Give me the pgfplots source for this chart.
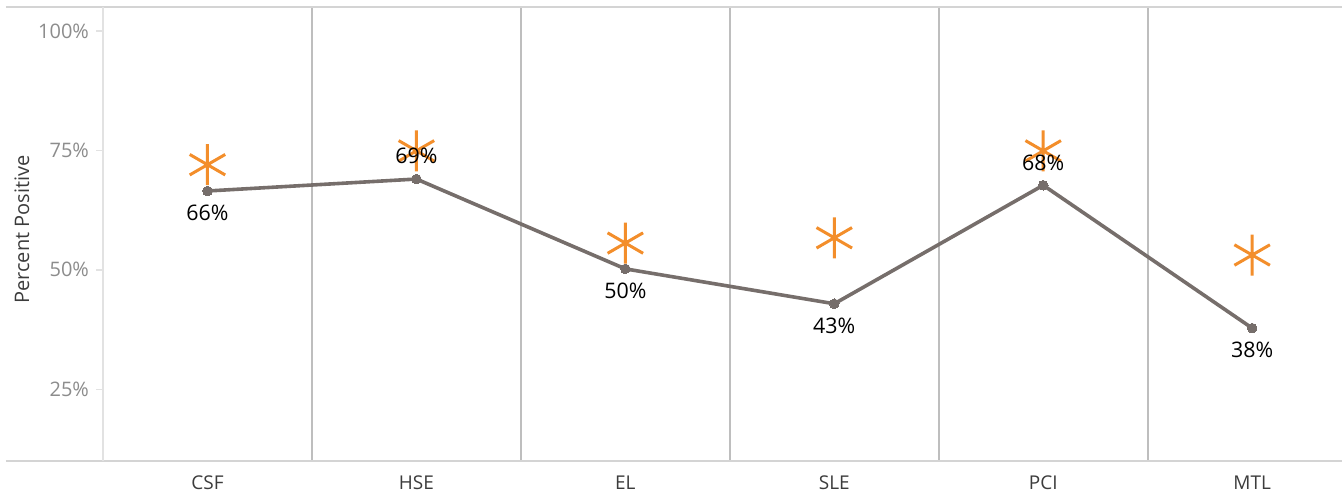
\documentclass[border=0pt]{standalone}
\usepackage{fontspec}
\setmainfont{Open Sans}
\usepackage{pgfplots}
\pgfplotsset{compat=1.18}
\definecolor{lineclr}{RGB}{118,110,107}
\definecolor{starclr}{RGB}{243,142,43}
\definecolor{sepclr}{RGB}{190,190,190}
\definecolor{frameclr}{RGB}{212,212,212}
\definecolor{leftclr}{RGB}{226,226,226}
\definecolor{ticklblclr}{RGB}{140,140,140}
\definecolor{xlblclr}{RGB}{60,60,60}
\begin{document}
\begin{tikzpicture}
\begin{axis}[
  scale only axis, width=619.5pt, height=227pt,
  xmin=-0.5, xmax=5.43, ymin=10, ymax=105,
  axis line style={draw=none},
  /pgf/number format/assume math mode=true,
  xtick={0,1,2,3,4,5},
  xticklabels={CSF,HSE,EL,SLE,PCI,MTL},
  x tick style={draw=none},
  xticklabel style={font=\fontsize{9.5}{11}\selectfont, text=xlblclr, anchor=base, yshift=-11pt},
  ytick={25,50,75,100},
  yticklabels={25\%,50\%,75\%,100\%},
  y tick style={draw=leftclr, line width=0.75pt},
  yticklabel style={font=\fontsize{10}{12}\selectfont, text=ticklblclr},
  tick align=outside, major tick length=3.5pt,
  extra x ticks={0.5,1.5,2.5,3.5,4.5},
  extra x tick labels={},
  extra x tick style={grid=major, major grid style={draw=sepclr, line width=1pt}, tick style={draw=none}},
  ylabel={Percent Positive},
  every axis y label/.style={at={(axis description cs:-0.0654,0.51)}, anchor=center, rotate=90, font=\fontsize{10}{12}\selectfont, text=xlblclr},
  clip=false,
]
\addplot[only marks, mark=asterisk, mark size=10.25pt, mark options={draw=starclr, line width=1.5pt}]
  coordinates {(0,72.0) (1,74.9) (2,55.6) (3,56.7) (4,74.9) (5,53.1)};
\addplot[lineclr, line width=1.8pt, mark=*, mark size=2.4pt,
  mark options={fill=lineclr, draw=lineclr, line width=0pt},
  point meta=explicit symbolic,
  visualization depends on={value \thisrow{anc} \as \anc},
  visualization depends on={\thisrow{dy} \as \dy},
  nodes near coords={\pgfplotspointmeta\%},
  every node near coord/.append style={anchor=\anc, yshift=\dy pt, inner sep=0pt, font=\fontsize{10.7}{12}\selectfont, text=black},
] table[meta=lbl] {
x y lbl anc dy
0 66.5 66 north -7
1 69.0 69 south 7.5
2 50.2 50 north -7
3 42.9 43 north -7
4 67.7 68 south 7.5
5 37.8 38 north -7
};
\end{axis}
\draw[frameclr, line width=1pt] ([xshift=-48.5pt]current axis.north west) -- (current axis.north east);
\draw[frameclr, line width=1pt] ([xshift=-48.5pt]current axis.south west) -- (current axis.south east);
\draw[leftclr, line width=1pt] (current axis.south west) -- (current axis.north west);
\pgfresetboundingbox
\path ([xshift=-51.5pt,yshift=-17pt]current axis.south west) rectangle ([yshift=3.5pt]current axis.north east);
\end{tikzpicture}
\end{document}
